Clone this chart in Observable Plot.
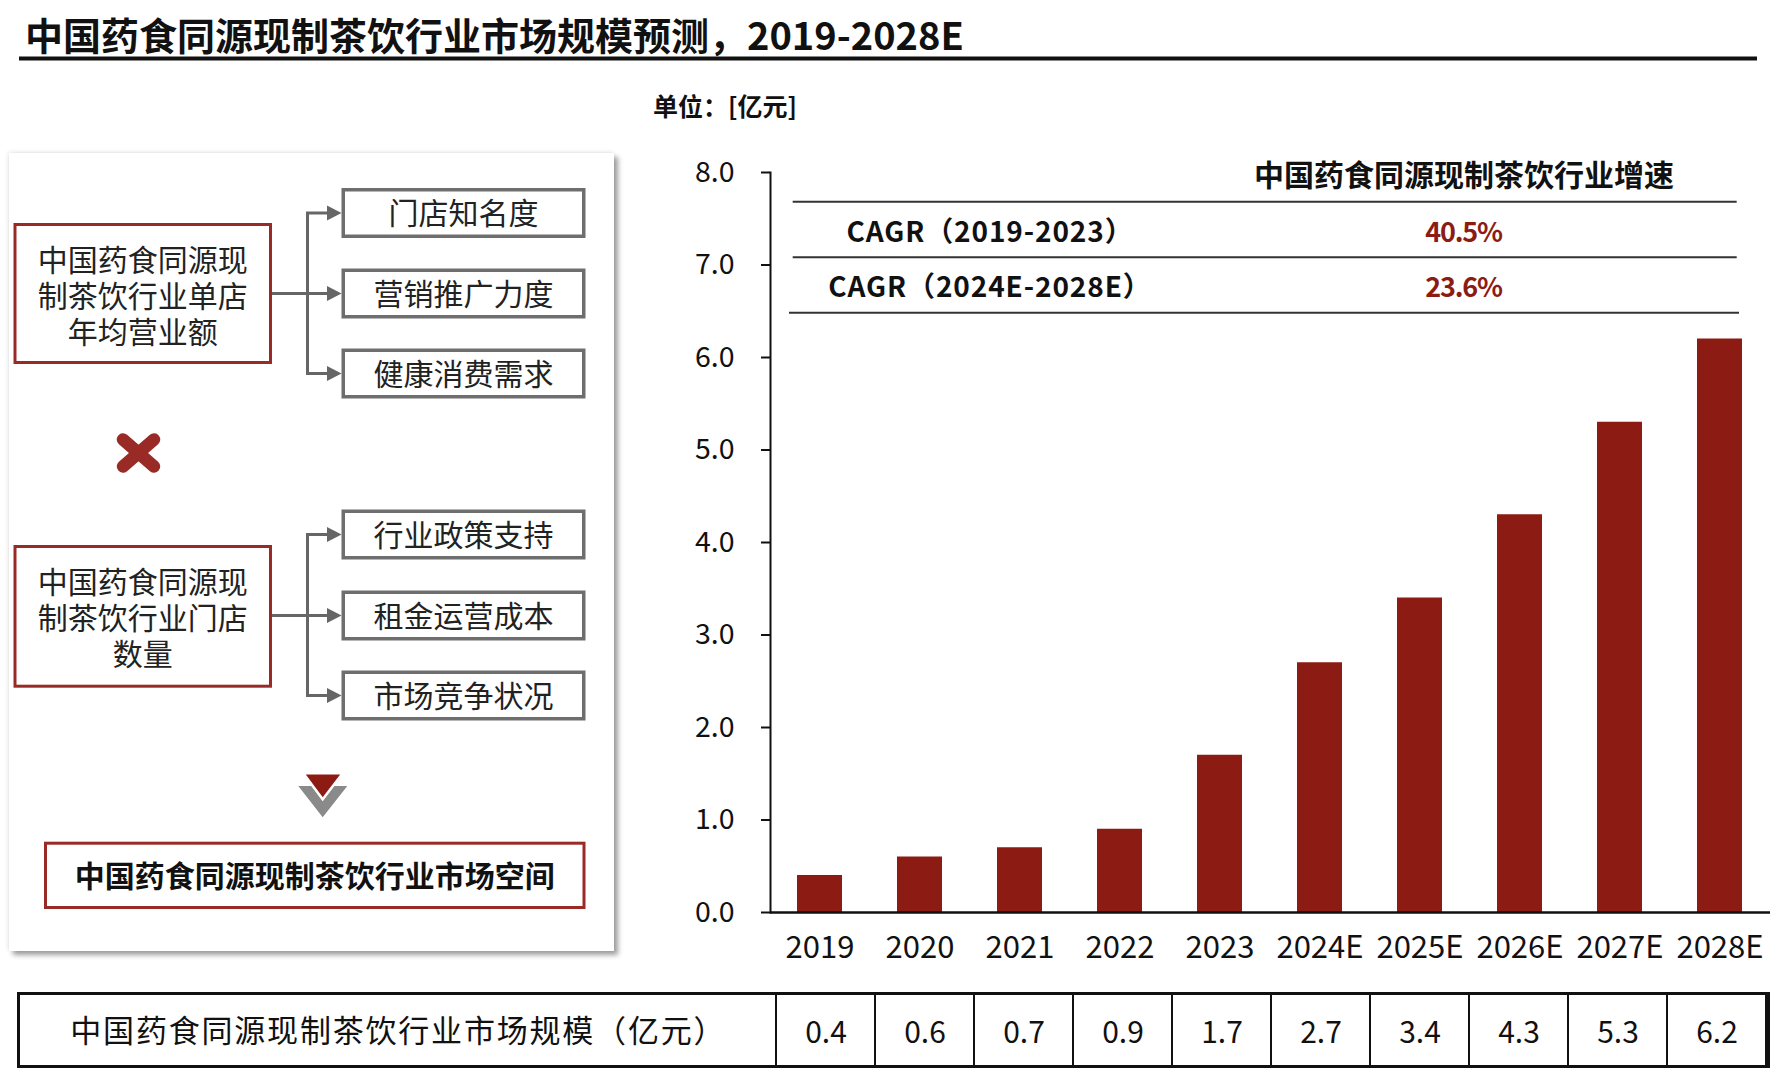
<!DOCTYPE html>
<html>
<head>
<meta charset="utf-8">
<script src="https://cdn.jsdelivr.net/npm/d3@7"></script>
<script src="https://cdn.jsdelivr.net/npm/@observablehq/plot@0.6"></script>
<style>
  html, body { margin: 0; padding: 0; background: #fff; }
  body {
    width: 1779px; height: 1080px; position: relative; overflow: hidden;
    font-family: "Noto Sans CJK SC", "Noto Sans", sans-serif; color: #111;
  }
  #panel {
    position: absolute; left: 9px; top: 153px; width: 605px; height: 798px;
    background: #fff;
    box-shadow: 4px 4px 5px rgba(0,0,0,0.38), -1px -1px 4px rgba(0,0,0,0.10);
  }
  #overlay { position: absolute; left: 0; top: 0; }
  .boxlabel {
    position: absolute; text-align: center; font-size: 30px; line-height: 36px;
    font-family: "Liberation Sans", "Noto Sans CJK SC", sans-serif;
    color: #222; white-space: nowrap;
  }
  #chart { position: absolute; left: 640px; top: 130px; }
  #tableFrame {
    position: absolute; left: 17px; top: 992px; width: 1753px; height: 76px;
    border: 3px solid #111; box-sizing: border-box;
  }
  #table { position: absolute; left: 0; top: 992px; }
</style>
</head>
<body>
<div id="panel"></div>
<svg id="overlay"></svg>
<div id="chart"></div>
<div id="tableFrame"></div>
<div id="table"></div>
<script>
// ---- data ----
const years = ["2019", "2020", "2021", "2022", "2023", "2024E", "2025E", "2026E", "2027E", "2028E"];
const marketSize = [0.4, 0.6, 0.7, 0.9, 1.7, 2.7, 3.4, 4.3, 5.3, 6.2];
const yTicks = [0, 1, 2, 3, 4, 5, 6, 7, 8];
const cagrLabels = ["CAGR（2019-2023）", "CAGR（2024E-2028E）"];
const cagrRates = ["40.5%", "23.6%"];
const storeRevenueFactors = ["门店知名度", "营销推广力度", "健康消费需求"];
const storeCountFactors = ["行业政策支持", "租金运营成本", "市场竞争状况"];
const storeRevenueLines = ["中国药食同源现", "制茶饮行业单店", "年均营业额"];
const storeCountLines = ["中国药食同源现", "制茶饮行业门店", "数量"];

const titleText = "中国药食同源现制茶饮行业市场规模预测，2019-2028E";
const unitText = "单位：[亿元]";
const growthHeader = "中国药食同源现制茶饮行业增速";
const marketSpaceText = "中国药食同源现制茶饮行业市场空间";
const tableLabel = "中国药食同源现制茶饮行业市场规模（亿元）";

const rows = years.map((year, i) => ({year, value: marketSize[i]}));

// ---- colours ----
const BAR = "#8C1C13";
const BOX_RED = "#992A26";
const GRAY_BOX = "#6E6E6E";
const ARROW = "#666666";
const FONT = "'Noto Sans CJK SC', 'Noto Sans', sans-serif";

// ---- static layer: heading, left diagram, growth table ----
const svg = d3.select("#overlay").attr("width", 1779).attr("height", 1080)
  .style("font-family", FONT);

function text(x, y, str, size, opts = {}) {
  return svg.append("text")
    .attr("x", x).attr("y", y)
    .attr("font-size", size)
    .attr("font-weight", opts.bold ? 700 : 400)
    .attr("text-anchor", opts.anchor || "start")
    .attr("fill", opts.fill || "#111")
    .attr("letter-spacing", opts.spacing || 0)
    .text(str);
}
function rect(x0, y0, x1, y1, stroke, sw) {
  svg.append("rect")
    .attr("x", x0 + sw / 2).attr("y", y0 + sw / 2)
    .attr("width", x1 - x0 - sw).attr("height", y1 - y0 - sw)
    .attr("fill", "#fff").attr("stroke", stroke).attr("stroke-width", sw);
}
function line(x1, y1, x2, y2, stroke, sw, cap) {
  svg.append("line").attr("x1", x1).attr("y1", y1).attr("x2", x2).attr("y2", y2)
    .attr("stroke", stroke).attr("stroke-width", sw).attr("stroke-linecap", cap || "butt");
}
// multi-line label centred in a box (one block of text, 36px line pitch)
function boxLabel(x0, x1, centerY, lines) {
  const div = document.createElement("div");
  div.className = "boxlabel";
  div.style.left = x0 + "px";
  div.style.width = (x1 - x0) + "px";
  div.style.top = (centerY - 36 - 17) + "px";
  div.innerHTML = lines.join("<br>");
  document.body.appendChild(div);
}

// heading and rule
text(25, 50, titleText, 38, {bold: true});
svg.append("rect").attr("x", 19).attr("y", 56.5).attr("width", 1738).attr("height", 4).attr("fill", "#111");
text(653, 116, unitText, 25, {bold: true});

// factor groups on the left
function factorGroup(boxTop, boxBottom, lines, factorTops, factors, shift) {
  rect(13.5, boxTop, 272, boxBottom, BOX_RED, 3);
  const mid = (boxTop + boxBottom) / 2;
  boxLabel(13.5, 272, mid + shift, lines);
  const centers = factorTops.map(t => t + 25);
  line(307.5, centers[0], 307.5, centers[2], ARROW, 3);
  line(272, centers[1], 307.5, centers[1], ARROW, 3);
  centers.forEach(cy => {
    line(306, cy, 329, cy, ARROW, 3);
    svg.append("polygon").attr("points", `327,${cy - 7.5} 341.5,${cy} 327,${cy + 7.5}`).attr("fill", ARROW);
  });
  factorTops.forEach((t, i) => {
    rect(341.5, t, 585.5, t + 50, GRAY_BOX, 3.5);
    text(463.5, t + 25 + 11.3, factors[i], 30, {anchor: "middle", fill: "#222"});
  });
}
factorGroup(223, 364, storeRevenueLines, [188, 268.5, 348.5], storeRevenueFactors, 2.5);
factorGroup(545, 687.7, storeCountLines, [509.5, 590.5, 670.5], storeCountFactors, 1.5);

// multiplication sign between the groups
line(123, 439.5, 154, 466.5, BOX_RED, 12.5, "round");
line(154, 439.5, 123, 466.5, BOX_RED, 12.5, "round");

// downward chevron
svg.append("polygon")
  .attr("points", "298.3,786 311.5,786 322.7,801 334,786 347.3,786 322.7,817.3")
  .attr("fill", "#8A8A8A");
svg.append("polygon")
  .attr("points", "303.3,773.3 342.7,773.3 322.7,799.3")
  .attr("fill", BAR).attr("stroke", "#fff").attr("stroke-width", 2.5);

// result box
rect(44, 841.7, 585.5, 909, BOX_RED, 3);
text(314.7, 875.5 + 11.3, marketSpaceText, 30, {bold: true, anchor: "middle"});

// growth-rate table inside the chart
text(1464, 186, growthHeader, 30, {bold: true, anchor: "middle"});
[201.7, 257.3, 312.7].forEach((y, i) => line(i === 2 ? 789 : 792.7, y, i === 2 ? 1739 : 1736.7, y, "#333", 2));
cagrLabels.forEach((l, i) => {
  const base = [242, 297][i];
  text(990, base, l, 28, {bold: true, anchor: "middle", spacing: 0.9});
  text(1463.5, base, cagrRates[i], 27, {bold: true, anchor: "middle", fill: BAR, spacing: -1.2});
});

// ---- bar chart ----
const chart = Plot.plot({
  width: 1139,
  height: 850,
  marginLeft: 130,
  marginRight: 9,
  marginTop: 42,
  marginBottom: 68,
  style: {fontFamily: FONT, background: "transparent", color: "#111", overflow: "visible"},
  x: {domain: years, paddingInner: 0.547, paddingOuter: 0.2735, axis: null},
  y: {domain: [0, 8], axis: null},
  marks: [
    Plot.barY(rows, {x: "year", y: "value", fill: BAR}),
    Plot.axisY({ticks: yTicks, tickFormat: d => d.toFixed(1), tickSize: 9, tickPadding: 27,
      fontSize: 28.5, strokeWidth: 2, label: null}),
    Plot.axisX({tickSize: 0, tickPadding: 23, fontSize: 31, label: null}),
    Plot.frame({anchor: "left", stroke: "#111", strokeWidth: 2}),
    Plot.ruleY([0], {stroke: "#111", strokeWidth: 2.5})
  ]
});
document.getElementById("chart").appendChild(chart);

// ---- value table under the chart ----
const table = Plot.plot({
  width: 1779,
  height: 76,
  marginLeft: 773.3,
  marginRight: 10.5,
  marginTop: 1.5,
  marginBottom: 1.5,
  style: {fontFamily: FONT, background: "transparent", color: "#111", overflow: "visible"},
  x: {domain: years, padding: 0, axis: null},
  marks: [
    Plot.cell(rows, {x: "year", fill: "none", stroke: "#111", strokeWidth: 2}),
    Plot.text(rows, {x: "year", text: d => d.value.toFixed(1), fontSize: 30, frameAnchor: "middle", dy: 3, fill: "#111"}),
    Plot.text([tableLabel], {frameAnchor: "left", dx: -375.5, dy: 2, textAnchor: "middle", fontSize: 31,
      fill: "#111", className: "row-label"})
  ]
});
// the row label is set a little wider than the font's natural advance
d3.select(table).selectAll(".row-label text").attr("letter-spacing", 1.8);
document.getElementById("table").appendChild(table);
</script>
</body>
</html>
